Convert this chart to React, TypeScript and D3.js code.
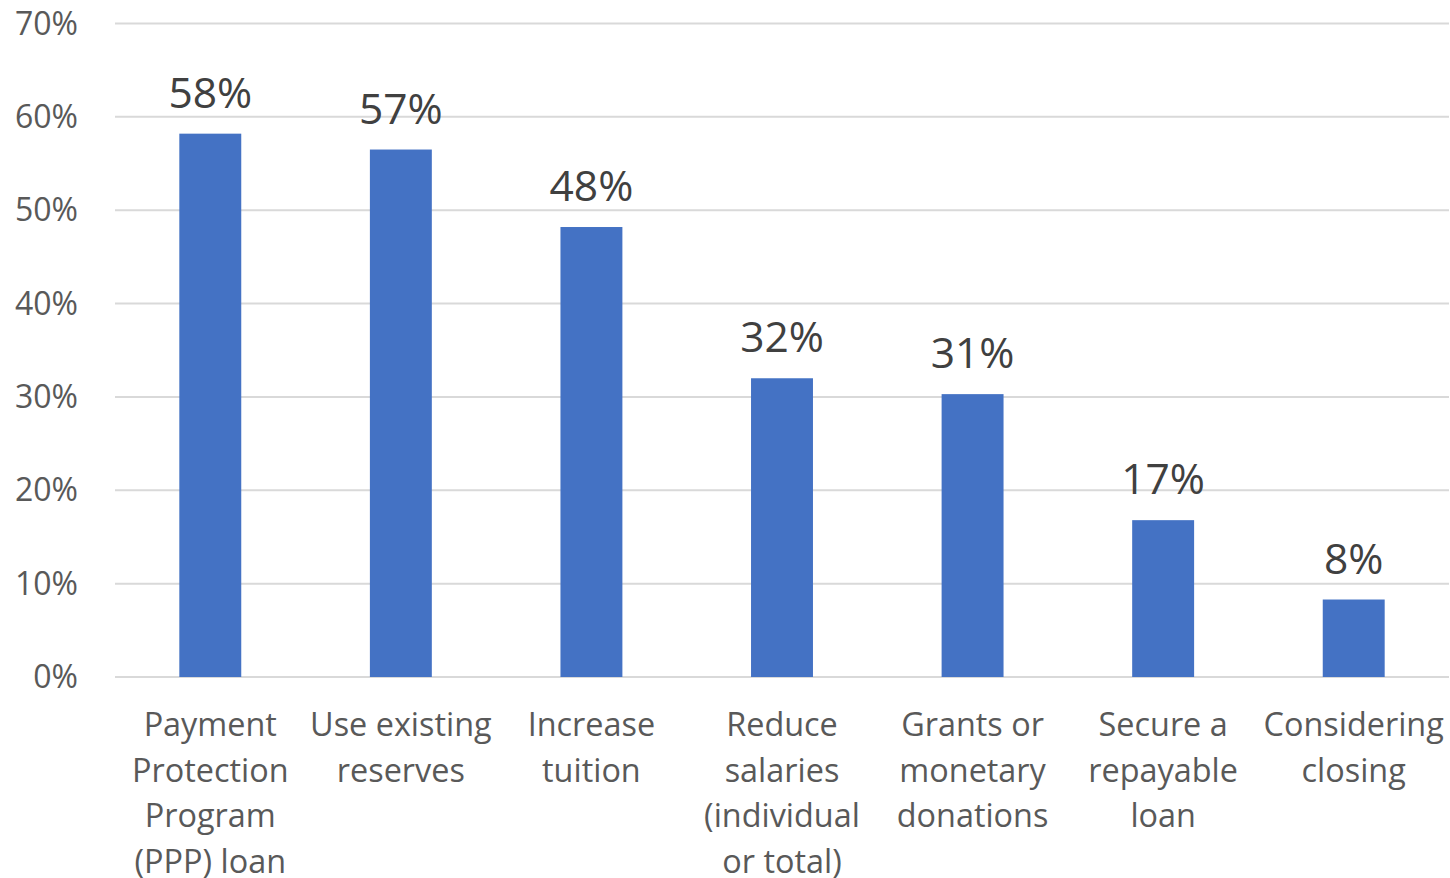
import React from "react";
import * as d3 from "d3";

const categories: string[][] = [
  ["Payment", "Protection", "Program", "(PPP) loan"],
  ["Use existing", "reserves"],
  ["Increase", "tuition"],
  ["Reduce", "salaries", "(individual", "or total)"],
  ["Grants or", "monetary", "donations"],
  ["Secure a", "repayable", "loan"],
  ["Considering", "closing"],
];
const values: number[] = [58.2, 56.5, 48.2, 32.0, 30.3, 16.8, 8.3];
const labels: string[] = ["58%", "57%", "48%", "32%", "31%", "17%", "8%"];
const yTicks: number[] = [0, 10, 20, 30, 40, 50, 60, 70];

const W = 1450;
const H = 878;
const FONT = "'Open Sans', 'Liberation Sans', sans-serif";

export default function App() {
  const left = 115;
  const right = 1449;
  const top = 23.5;
  const bottom = 677;
  const x = d3
    .scaleBand<number>()
    .domain(d3.range(values.length))
    .range([left, right])
    .paddingInner(0.675)
    .paddingOuter(0.3375);
  const y = d3.scaleLinear().domain([0, 70]).range([bottom, top]);

  return (
    <svg
      width={W}
      height={H}
      style={{ position: "absolute", left: 0, top: 0, background: "#fff" }}
      fontFamily={FONT}
    >
      {yTicks.map((t) => (
        <g key={t}>
          <line x1={left} x2={right} y1={y(t)} y2={y(t)} stroke="#d9d9d9" strokeWidth={2} />
          <text x={78} y={y(t)} dy="0.35em" textAnchor="end" fontSize={32} fill="#595959">
            {t}%
          </text>
        </g>
      ))}
      {values.map((v, i) => {
        const bx = x(i)!;
        const cx = bx + x.bandwidth() / 2;
        return (
          <g key={i}>
            <rect x={bx} y={y(v)} width={x.bandwidth()} height={y(0) - y(v)} fill="#4472c4" />
            <text x={cx} y={y(v) - 26} textAnchor="middle" fontSize={42.5} fill="#404040">
              {labels[i]}
            </text>
            {categories[i].map((line, j) => (
              <text
                key={j}
                x={cx}
                y={736 + j * 45.7}
                textAnchor="middle"
                fontSize={32.4}
                fill="#595959"
              >
                {line}
              </text>
            ))}
          </g>
        );
      })}
    </svg>
  );
}
